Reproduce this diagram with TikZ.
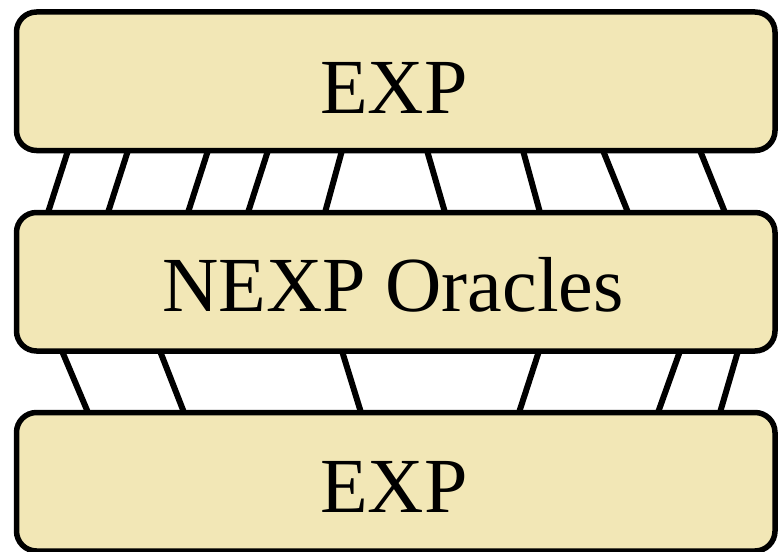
\documentclass[tikz,border=0pt]{standalone}
\usepackage{fontspec}
\setmainfont{Liberation Serif}
\definecolor{boxfill}{HTML}{F2E7B6}
\begin{document}
\begin{tikzpicture}[x=1pt,y=-1pt,
  layerbox/.style={draw=black, line width=5.5pt, fill=boxfill, rounded corners=20pt,
    minimum width=758.5pt, minimum height=138.5pt, inner sep=0pt, outer sep=0pt},
  rung/.style={draw=black, line width=6pt},
  lbl/.style={anchor=base, inner sep=0pt, font=\fontsize{78}{90}\selectfont}]
\useasboundingbox (0,0) rectangle (778,551);
\node[layerbox] (b1) at (395.75,81.25) {};
\node[layerbox] (b2) at (395.75,281.75) {};
\node[layerbox] (b3) at (395.75,481.75) {};
\node[lbl] (t1) at (394,113) {EXP};
\node[lbl] (t2) at (393,311) {NEXP Oracles};
\node[lbl] (t3) at (394,512) {EXP};
\foreach \a/\b in {68/48,128/108,208/188,268/248,342/325,427/445,523/540,603/628,700/725}
  \draw[rung] (b1.south -| \a,0) -- (b2.north -| \b,0);
\foreach \a/\b in {62/88,160/184,342/361,539/519,680/658,738/720}
  \draw[rung] (b2.south -| \a,0) -- (b3.north -| \b,0);
\end{tikzpicture}
\end{document}
